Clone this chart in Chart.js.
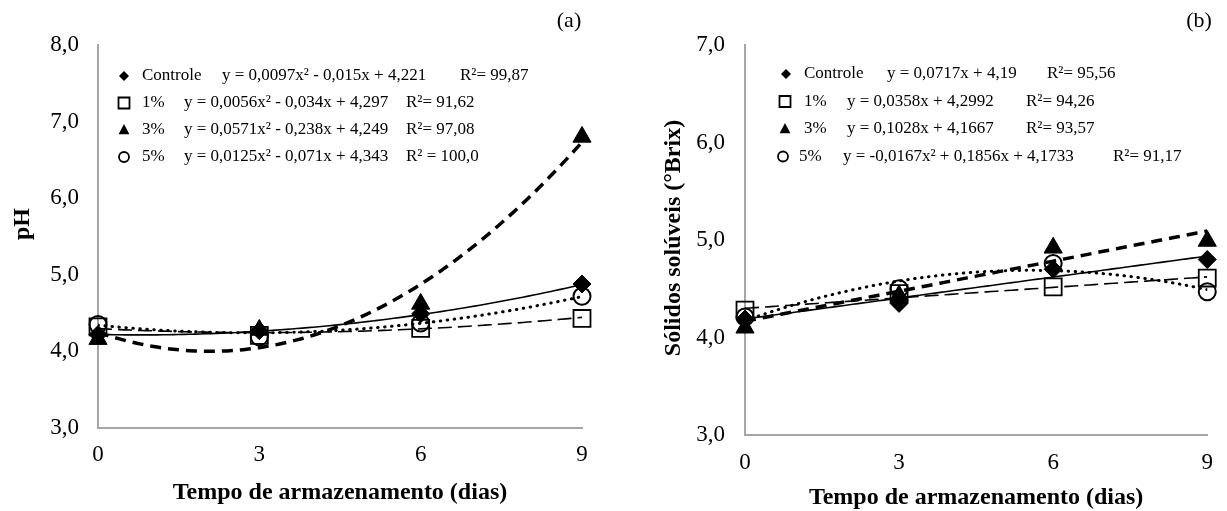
<!DOCTYPE html>
<html>
<head>
<meta charset="utf-8">
<script src="https://cdn.jsdelivr.net/npm/chart.js@4.4.0/dist/chart.umd.min.js"></script>
<style>
  html, body { margin: 0; padding: 0; background: #fff; }
  #wrap { position: relative; width: 1227px; height: 511px; overflow: hidden; background: #fff; }
  .panel { position: absolute; top: 0; height: 511px; }
  #pa { left: 0; width: 613px; }
  #pb { left: 613px; width: 614px; }
  canvas { display: block; }
</style>
</head>
<body>
<div id="wrap">
  <div class="panel" id="pa"><canvas id="chartA" width="613" height="511"></canvas></div>
  <div class="panel" id="pb"><canvas id="chartB" width="614" height="511"></canvas></div>
</div>
<script>
// Storage days
const days = [0, 3, 6, 9];
const treatments = ['Controle', '1%', '3%', '5%'];

// (a) pH means per treatment
const phControle = [4.22, 4.27, 4.49, 4.88];
const ph1 = [4.32, 4.21, 4.30, 4.43];
const ph3 = [4.16, 4.28, 4.62, 6.80];
const ph5 = [4.35, 4.19, 4.37, 4.72];

// (a) fitted trend coefficients [a, b, c] for y = a·x² + b·x + c
const phFitControle = [0.0097, -0.015, 4.221];
const phFit1 = [0.0056, -0.034, 4.297];
const phFit3 = [0.0571, -0.238, 4.249];
const phFit5 = [0.0125, -0.071, 4.343];
const phR2 = ['R²= 99,87', 'R²= 91,62', 'R²= 97,08', 'R² = 100,0'];

// (b) soluble solids (°Brix) means per treatment
const ssControle = [4.19, 4.35, 4.70, 4.80];
const ss1 = [4.28, 4.45, 4.52, 4.61];
const ss3 = [4.10, 4.43, 4.92, 4.99];
const ss5 = [4.21, 4.50, 4.76, 4.47];

// (b) fitted trend coefficients [a, b, c]
const ssFitControle = [0, 0.0717, 4.19];
const ssFit1 = [0, 0.0358, 4.2992];
const ssFit3 = [0, 0.1028, 4.1667];
const ssFit5 = [-0.0167, 0.1856, 4.1733];
const ssR2 = ['R²= 95,56', 'R²= 94,26', 'R²= 93,57', 'R²= 91,17'];

// axis ticks
const phTicks = [3, 4, 5, 6, 7, 8];
const ssTicks = [3, 4, 5, 6, 7];
const dayTicks = [0, 3, 6, 9];

const SERIF = '"Liberation Serif", "Times New Roman", serif';

// marker + trend line look per treatment
const looks = [
  { point: 'rectRot',  r: 9,    fill: '#000',          bw: 1,   lr: 5,   dash: [],         lw: 1.6, cap: 'butt' },
  { point: 'rect',     r: 12,   fill: 'rgba(0,0,0,0)', bw: 1.8, lr: 5.5, dash: [14, 6],    lw: 1.6, cap: 'butt' },
  { point: 'triangle', r: 10.5, fill: '#000',          bw: 1,   lr: 6,   dash: [11, 7],    lw: 3.5, cap: 'butt' },
  { point: 'circle',   r: 8.5,  fill: 'rgba(0,0,0,0)', bw: 2,   lr: 5,   dash: [0.5, 6.5], lw: 3,   cap: 'round' }
];

function numPt(v) { return String(v).replace('.', ','); }

// equation text built from the fitted coefficients
function equationText(fit) {
  const [a, b, c] = fit;
  let s = 'y = ';
  let first = true;
  const term = (k, suffix) => {
    if (k === 0) return;
    if (first) { s += (k < 0 ? '-' : '') + numPt(Math.abs(k)) + suffix; first = false; }
    else { s += (k < 0 ? ' - ' : ' + ') + numPt(Math.abs(k)) + suffix; }
  };
  term(a, 'x²');
  term(b, 'x');
  term(c, '');
  return s;
}

// trend curve sampled along the day axis from its coefficients
function trendPoints(fit) {
  const [a, b, c] = fit;
  const pts = [];
  for (let i = 0; i <= 90; i++) {
    const x = i / 10;
    pts.push({ x: x, y: a * x * x + b * x + c });
  }
  return pts;
}

function drawMarker(ctx, look, x, y) {
  const r = look.lr;
  ctx.save();
  ctx.strokeStyle = '#000';
  ctx.fillStyle = '#000';
  ctx.lineWidth = 1.8;
  ctx.beginPath();
  if (look.point === 'rectRot') {
    ctx.moveTo(x, y - r); ctx.lineTo(x + r, y); ctx.lineTo(x, y + r); ctx.lineTo(x - r, y); ctx.closePath();
    ctx.fill();
  } else if (look.point === 'rect') {
    ctx.rect(x - r, y - r, 2 * r, 2 * r);
    ctx.stroke();
  } else if (look.point === 'triangle') {
    ctx.moveTo(x, y - r); ctx.lineTo(x + r * 0.9, y + r * 0.7); ctx.lineTo(x - r * 0.9, y + r * 0.7); ctx.closePath();
    ctx.fill();
  } else {
    ctx.arc(x, y, r, 0, Math.PI * 2);
    ctx.stroke();
  }
  ctx.restore();
}

// axis captions, panel tag and the equation key
const panelDecor = {
  id: 'panelDecor',
  afterDraw(chart, args, o) {
    const ctx = chart.ctx;
    const area = chart.chartArea;
    ctx.save();
    ctx.fillStyle = '#000';
    ctx.textBaseline = 'middle';

    ctx.font = 'bold 24px ' + SERIF;
    ctx.textAlign = 'center';
    ctx.fillText(o.xTitle, (area.left + area.right) / 2, o.xTitleY);
    ctx.save();
    ctx.translate(o.yTitleX, o.yTitleY);
    ctx.rotate(-Math.PI / 2);
    ctx.fillText(o.yTitle, 0, 0);
    ctx.restore();

    ctx.font = '22px ' + SERIF;
    ctx.fillText(o.tag, o.tagX, o.tagY);

    ctx.font = '17px ' + SERIF;
    ctx.textAlign = 'left';
    o.keyRows.forEach((row, i) => {
      const y = o.keyY[i];
      drawMarker(ctx, looks[i], o.keyMarkX[i], y);
      ctx.fillText(treatments[i], o.keyNameX[i], y);
      ctx.fillText(row.eq, o.keyEqX[i], y);
      ctx.fillText(row.r2, o.keyR2X[i], y);
    });
    ctx.restore();
  }
};

function buildPanel(canvasId, series, fits, r2, yMin, yMax, yTicks, geo, decor) {
  const datasets = [];
  series.forEach((vals, i) => {
    const lk = looks[i];
    datasets.push({
      label: treatments[i] + ' (tendência)',
      data: trendPoints(fits[i]),
      borderColor: '#000',
      borderWidth: lk.lw,
      borderDash: lk.dash,
      borderCapStyle: lk.cap,
      pointRadius: 0,
      pointHoverRadius: 0,
      fill: false,
      tension: 0,
      order: 1
    });
    datasets.push({
      label: treatments[i],
      data: days.map((d, j) => ({ x: d, y: vals[j] })),
      showLine: false,
      pointStyle: lk.point,
      pointRadius: lk.r,
      pointHoverRadius: lk.r,
      pointBackgroundColor: lk.fill,
      pointBorderColor: '#000',
      pointBorderWidth: lk.bw,
      clip: false,
      order: 2
    });
  });

  decor.keyRows = fits.map((f, i) => ({ eq: equationText(f), r2: r2[i] }));

  return new Chart(document.getElementById(canvasId), {
    type: 'line',
    data: { datasets },
    options: {
      responsive: false,
      animation: false,
      events: [],
      layout: { padding: { top: geo.top, right: geo.right, left: 0, bottom: 0 } },
      plugins: {
        legend: { display: false },
        tooltip: { enabled: false },
        title: { display: false },
        panelDecor: decor
      },
      scales: {
        x: {
          type: 'linear',
          min: 0, max: 9,
          afterBuildTicks: s => { s.ticks = dayTicks.map(v => ({ value: v })); },
          afterFit: s => { s.height = geo.xHeight; },
          grid: { display: false, drawTicks: false },
          border: { display: true, color: '#a6a6a6', width: 2 },
          ticks: { color: '#000', font: { family: SERIF, size: 23 }, padding: geo.xPad, maxRotation: 0 }
        },
        y: {
          type: 'linear',
          min: yMin, max: yMax,
          afterBuildTicks: s => { s.ticks = yTicks.map(v => ({ value: v })); },
          afterFit: s => { s.width = geo.yWidth; },
          grid: { display: false, drawTicks: false },
          border: { display: true, color: '#a6a6a6', width: 2 },
          ticks: {
            color: '#000',
            font: { family: SERIF, size: 23 },
            padding: geo.yPad,
            callback: v => v.toFixed(1).replace('.', ',')
          }
        }
      }
    },
    plugins: [panelDecor]
  });
}

buildPanel('chartA',
  [phControle, ph1, ph3, ph5],
  [phFitControle, phFit1, phFit3, phFit5],
  phR2, 3, 8, phTicks,
  { top: 45, right: 31, xHeight: 83, yWidth: 98, xPad: 13, yPad: 19 },
  {
    xTitle: 'Tempo de armazenamento (dias)', xTitleY: 493,
    yTitle: 'pH', yTitleX: 23, yTitleY: 224,
    tag: '(a)', tagX: 569, tagY: 21,
    keyY: [76, 103, 130, 157],
    keyMarkX: [124, 124, 124, 124],
    keyNameX: [142, 142, 142, 142],
    keyEqX: [222, 184, 184, 184],
    keyR2X: [460, 406, 406, 406]
  });

buildPanel('chartB',
  [ssControle, ss1, ss3, ss5],
  [ssFitControle, ssFit1, ssFit3, ssFit5],
  ssR2, 3, 7, ssTicks,
  { top: 45, right: 9, xHeight: 76, yWidth: 132, xPad: 14, yPad: 20 },
  {
    xTitle: 'Tempo de armazenamento (dias)', xTitleY: 498,
    yTitle: 'Sólidos solúveis (°Brix)', yTitleX: 61, yTitleY: 238,
    tag: '(b)', tagX: 586, tagY: 21,
    keyY: [74, 101.5, 129, 156.5],
    keyMarkX: [173, 172, 172, 170],
    keyNameX: [191, 191, 191, 186],
    keyEqX: [274, 234, 234, 230],
    keyR2X: [434, 413, 413, 500]
  });
</script>
</body>
</html>
